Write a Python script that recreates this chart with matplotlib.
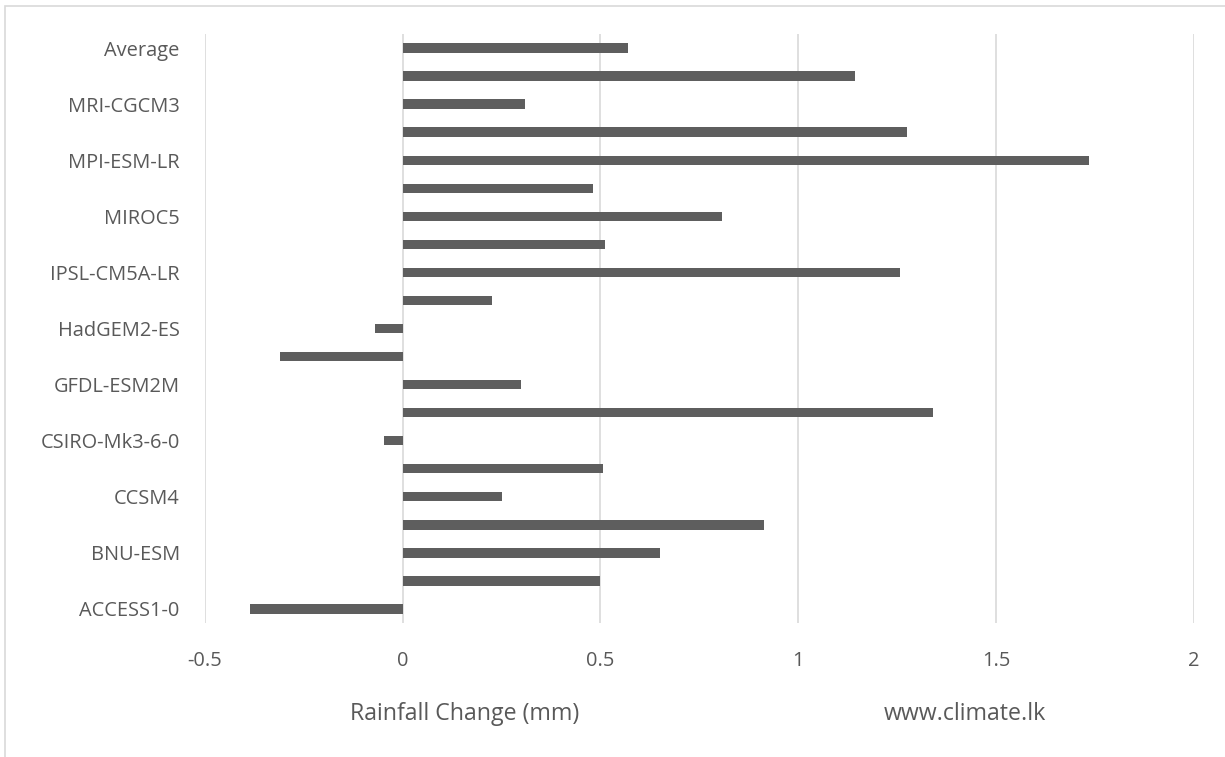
import matplotlib.pyplot as plt
from matplotlib.patches import Rectangle

plt.rcParams['font.family'] = ['Open Sans', 'DejaVu Sans']

# Models listed bottom to top, with the ensemble average last
models = ['ACCESS1-0', 'bcc-csm1-1', 'BNU-ESM', 'CanESM2', 'CCSM4', 'CNRM-CM5',
          'CSIRO-Mk3-6-0', 'GFDL-CM3', 'GFDL-ESM2M', 'GISS-E2-R', 'HadGEM2-ES',
          'inmcm4', 'IPSL-CM5A-LR', 'IPSL-CM5A-MR', 'MIROC5', 'MIROC-ESM',
          'MPI-ESM-LR', 'MPI-ESM-MR', 'MRI-CGCM3', 'NorESM1-M', 'Average']
rain_change = [-0.386, 0.50, 0.651, 0.914, 0.252, 0.506, -0.048, 1.341, 0.30,
               -0.309, -0.07, 0.225, 1.256, 0.512, 0.807, 0.482, 1.735, 1.276,
               0.31, 1.144, 0.57]
x_ticks = [-0.5, 0, 0.5, 1, 1.5, 2]

text_col = '#595959'
grid_col = '#d9d9d9'

fig = plt.figure(figsize=(12.25, 7.57), dpi=100)
ax = fig.add_axes([0.1672, 0.177, 0.8074, 0.7781])

pos = list(range(len(models)))
ax.barh(pos, rain_change, height=0.333, color='#5e5e5e', zorder=3)

ax.set_xlim(-0.5, 2)
ax.set_ylim(-0.5, len(models) - 0.5)
ax.set_xticks(x_ticks)
ax.set_xticklabels([f'{t:g}' for t in x_ticks])
# only every other category name fits on the axis
ax.set_yticks(pos[::2])
ax.set_yticklabels(models[::2])
ax.grid(axis='x', color=grid_col, linewidth=1.2, zorder=0)
for s in ax.spines.values():
    s.set_visible(False)
ax.tick_params(axis='both', length=0, labelsize=14.4, labelcolor=text_col)
ax.tick_params(axis='x', pad=20)
ax.tick_params(axis='y', pad=18)

fig.text(465 / 1225, 1 - 720.5 / 757, 'Rainfall Change (mm)', ha='center',
         va='baseline', fontsize=16.7, color=text_col)
fig.text(965 / 1225, 1 - 720.5 / 757, 'www.climate.lk', ha='center',
         va='baseline', fontsize=16.7, color=text_col)

# chart area outline
fig.patches.append(Rectangle((5 / 1225, -0.1), 1.2, 1.1 - 5.5 / 757,
                             transform=fig.transFigure, fill=False,
                             edgecolor=grid_col, linewidth=1.2))

fig.savefig('out.png', dpi=100)
